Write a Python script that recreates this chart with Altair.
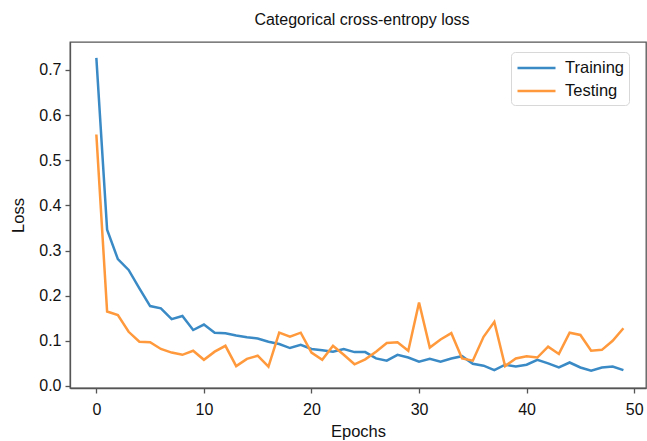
import altair as alt
import pandas as pd

epochs = list(range(50))
training = [0.727, 0.346, 0.281, 0.257, 0.216, 0.177, 0.172, 0.148, 0.155, 0.124,
            0.136, 0.118, 0.117, 0.112, 0.108, 0.105, 0.098, 0.093, 0.084, 0.091,
            0.082, 0.079, 0.076, 0.082, 0.075, 0.075, 0.061, 0.056, 0.069, 0.063,
            0.054, 0.060, 0.054, 0.061, 0.066, 0.049, 0.045, 0.035, 0.047, 0.043,
            0.047, 0.058, 0.050, 0.041, 0.052, 0.041, 0.034, 0.041, 0.043, 0.035]
testing = [0.557, 0.165, 0.157, 0.120, 0.098, 0.097, 0.082, 0.074, 0.069, 0.078,
           0.058, 0.076, 0.089, 0.044, 0.060, 0.067, 0.043, 0.118, 0.109, 0.118,
           0.074, 0.058, 0.089, 0.069, 0.048, 0.059, 0.076, 0.095, 0.097, 0.078,
           0.185, 0.085, 0.103, 0.117, 0.061, 0.056, 0.109, 0.142, 0.044, 0.061,
           0.066, 0.063, 0.087, 0.071, 0.118, 0.113, 0.078, 0.080, 0.100, 0.128]
series_names = ["Training", "Testing"]
series_colors = ["#3a8ac6", "#ff993b"]
x_ticks = [0, 10, 20, 30, 40, 50]
y_ticks = [0.0, 0.1, 0.2, 0.3, 0.4, 0.5, 0.6, 0.7]

df = pd.DataFrame({
    "Epoch": epochs * 2,
    "Loss": training + testing,
    "Series": [series_names[0]] * len(epochs) + [series_names[1]] * len(epochs),
})

font = "Liberation Sans"

chart = alt.Chart(df).mark_line(strokeWidth=2.5, clip=True).encode(
    x=alt.X("Epoch:Q",
            scale=alt.Scale(domain=[-2.45, 51.1], nice=False, zero=False),
            axis=alt.Axis(title="Epochs", values=x_ticks, format="d", grid=False,
                          tickSize=5, labelPadding=8, titlePadding=6)),
    y=alt.Y("Loss:Q",
            scale=alt.Scale(domain=[-0.0045, 0.762], nice=False, zero=False),
            axis=alt.Axis(title="Loss", values=y_ticks, format=".1f", grid=False,
                          tickSize=5, labelPadding=4, titlePadding=12)),
    color=alt.Color("Series:N",
                    scale=alt.Scale(domain=series_names, range=series_colors),
                    sort=series_names,
                    legend=alt.Legend(title=None, orient="none", legendX=441, legendY=10,
                                      symbolType="M-1,0L3,0", symbolSize=361,
                                      symbolStrokeWidth=2.5, labelFontSize=16.5,
                                      labelFont=font, labelColor="#111",
                                      labelOffset=27, rowPadding=3, padding=5,
                                      fillColor="white", strokeColor="#d8d8d8",
                                      cornerRadius=4)),
    order=alt.Order("Epoch:Q"),
).properties(
    width=576,
    height=346,
    title=alt.TitleParams("Categorical cross-entropy loss", fontSize=16, font=font,
                          fontWeight="normal", color="#111", anchor="middle",
                          frame="group", offset=14, dx=4),
    autosize=alt.AutoSizeParams(type="none"),
    padding={"left": 70, "top": 42, "right": 1, "bottom": 53},
).configure_view(
    stroke="#555", strokeWidth=1.3
).configure_axis(
    domainColor="#555", tickColor="#555", labelColor="#111", titleColor="#111",
    labelFont=font, titleFont=font, labelFontSize=16, titleFontSize=16.5,
    titleFontWeight="normal", domainWidth=1.3, tickWidth=1.3
)

chart.save("out.html", embed_options={"renderer": "svg", "actions": False})
